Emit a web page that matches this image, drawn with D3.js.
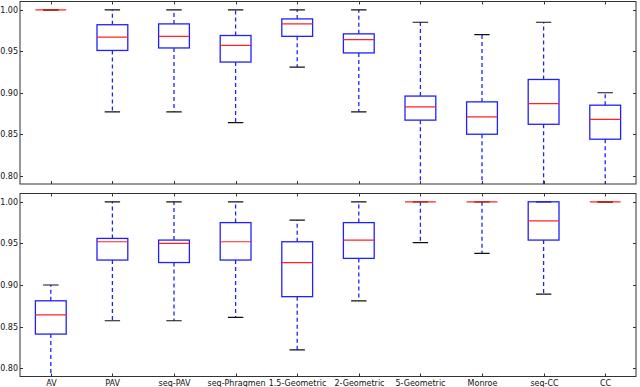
<!DOCTYPE html>
<html lang="en">
<head>
<meta charset="UTF-8">
<title>Box plots</title>
<script src="https://d3js.org/d3.v7.min.js"></script>
<style>
    body { margin: 0; background: #fff; }
    svg { display: block; font-family: "DejaVu Sans", sans-serif; }
</style>
</head>
<body>
<div id="chart"></div>
<script>
    const categories = ["AV", "PAV", "seq-PAV", "seq-Phragmen", "1.5-Geometric",
        "2-Geometric", "5-Geometric", "Monroe", "seq-CC", "CC"];
    const yTicks = [0.80, 0.85, 0.90, 0.95, 1.00];

    // upper panel
    const topLow    = [1.000, 0.877, 0.877, 0.864, 0.931, 0.877, 0.750, 0.750, 0.750, 0.750];
    const topQ1     = [1.000, 0.951, 0.954, 0.937, 0.968, 0.948, 0.867, 0.850, 0.862, 0.844];
    const topMedian = [1.000, 0.967, 0.968, 0.957, 0.983, 0.964, 0.883, 0.871, 0.887, 0.868];
    const topQ3     = [1.000, 0.982, 0.983, 0.969, 0.989, 0.971, 0.896, 0.889, 0.916, 0.885];
    const topHigh   = [1.000, 1.000, 1.000, 1.000, 1.000, 1.000, 0.985, 0.970, 0.985, 0.900];

    // lower panel
    const botLow    = [0.750, 0.857, 0.857, 0.861, 0.822, 0.881, 0.951, 0.938, 0.889, 1.000];
    const botQ1     = [0.841, 0.930, 0.927, 0.930, 0.886, 0.932, 1.000, 1.000, 0.954, 1.000];
    const botMedian = [0.864, 0.952, 0.950, 0.952, 0.927, 0.954, 1.000, 1.000, 0.977, 1.000];
    const botQ3     = [0.881, 0.956, 0.954, 0.975, 0.952, 0.975, 1.000, 1.000, 1.000, 1.000];
    const botHigh   = [0.900, 1.000, 1.000, 1.000, 0.978, 1.000, 1.000, 1.000, 1.000, 1.000];

    const width = 640, height = 387;
    const left = 20, right = 636;

    const svg = d3.select("#chart").append("svg")
        .attr("width", width)
        .attr("height", height);

    const x = d3.scaleLinear().domain([0.5, categories.length + 0.5]).range([left, right]);

    function panel(top, bottom, low, q1, med, q3, high, showLabels, id) {
        const y = d3.scaleLinear().domain([0.79, 1.01]).range([bottom, top]);
        const g = svg.append("g");

        g.append("clipPath").attr("id", id)
            .append("rect").attr("x", left).attr("y", top)
            .attr("width", right - left).attr("height", bottom - top);

        const plot = g.append("g").attr("clip-path", `url(#${id})`);
        const boxW = x(1.25) - x(1), capW = x(1.125) - x(1);

        categories.forEach((c, i) => {
            const cx = x(i + 1);
            // whiskers
            plot.append("line").attr("x1", cx).attr("x2", cx)
                .attr("y1", y(q1[i])).attr("y2", y(low[i]))
                .attr("stroke", "#2020ff").attr("stroke-width", 1.3)
                .attr("stroke-dasharray", "4,3");
            plot.append("line").attr("x1", cx).attr("x2", cx)
                .attr("y1", y(q3[i])).attr("y2", y(high[i]))
                .attr("stroke", "#2020ff").attr("stroke-width", 1.3)
                .attr("stroke-dasharray", "4,3");
            // caps
            [low[i], high[i]].forEach(v => {
                plot.append("line").attr("x1", cx - capW).attr("x2", cx + capW)
                    .attr("y1", y(v)).attr("y2", y(v))
                    .attr("stroke", "#111").attr("stroke-width", 1.2);
            });
            // box
            plot.append("rect")
                .attr("x", cx - boxW).attr("width", 2 * boxW)
                .attr("y", y(q3[i])).attr("height", Math.max(0, y(q1[i]) - y(q3[i])))
                .attr("fill", "none").attr("stroke", "#2020ff").attr("stroke-width", 1.3);
            // median
            plot.append("line").attr("x1", cx - boxW).attr("x2", cx + boxW)
                .attr("y1", y(med[i])).attr("y2", y(med[i]))
                .attr("stroke", "#f22").attr("stroke-width", 1.2);
        });

        // frame
        g.append("rect").attr("x", left).attr("y", top)
            .attr("width", right - left).attr("height", bottom - top)
            .attr("fill", "none").attr("stroke", "#333").attr("stroke-width", 1);

        // y ticks (inside, both sides)
        yTicks.forEach(t => {
            const ty = Math.round(y(t)) + 0.5;
            g.append("line").attr("x1", left).attr("x2", left + 3).attr("y1", ty).attr("y2", ty)
                .attr("stroke", "#333");
            g.append("line").attr("x1", right - 3).attr("x2", right).attr("y1", ty).attr("y2", ty)
                .attr("stroke", "#333");
            g.append("text").attr("x", left - 2).attr("y", ty)
                .attr("dy", "0.35em").attr("text-anchor", "end")
                .attr("font-size", 8).attr("fill", "#111")
                .text(d3.format(".2f")(t));
        });

        // x ticks (inside, top and bottom)
        categories.forEach((c, i) => {
            const tx = Math.round(x(i + 1)) + 0.5;
            g.append("line").attr("x1", tx).attr("x2", tx).attr("y1", top).attr("y2", top + 3)
                .attr("stroke", "#333");
            g.append("line").attr("x1", tx).attr("x2", tx).attr("y1", bottom - 3).attr("y2", bottom)
                .attr("stroke", "#333");
            if (showLabels) {
                g.append("text").attr("x", tx).attr("y", bottom + 9.5)
                    .attr("text-anchor", "middle")
                    .attr("font-size", 8).attr("fill", "#111")
                    .text(c);
            }
        });
    }

    panel(1.5, 184, topLow, topQ1, topMedian, topQ3, topHigh, false, "clipTop");
    panel(193.5, 376.5, botLow, botQ1, botMedian, botQ3, botHigh, true, "clipBot");
</script>
</body>
</html>
